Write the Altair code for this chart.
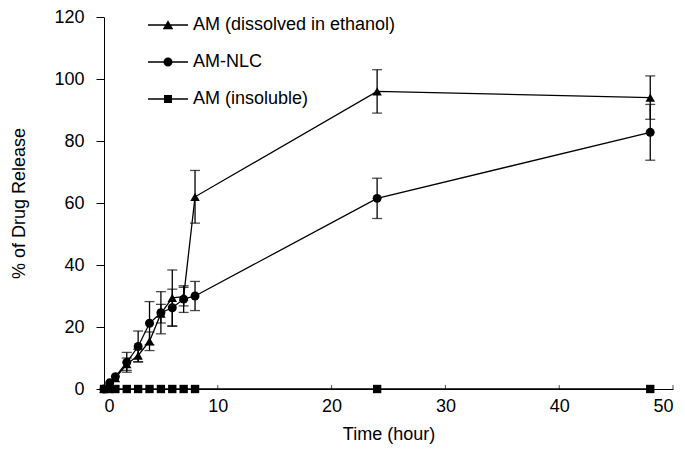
import altair as alt
import pandas as pd

FONT = "Liberation Sans"

# ---- data ----
series_names = ["AM (dissolved in ethanol)", "AM-NLC", "AM (insoluble)"]

time_am = [0, 0.5, 1, 2, 3, 4, 5, 6, 7, 8, 24, 48]
val_am = [0, 1.5, 3.5, 8, 10.8, 15.4, 24.3, 29.4, 29.8, 62, 96, 94]
err_am = [0, 0, 0, 2, 2, 3, 3, 9, 3, 8.5, 7, 7]

time_nlc = [0, 0.5, 1, 2, 3, 4, 5, 6, 7, 8, 24, 48]
val_nlc = [0, 2, 4, 8.6, 13.7, 21.2, 24.6, 26.2, 29, 30, 61.5, 82.8]
err_nlc = [0, 0, 0, 3.2, 5, 7, 6.8, 6, 4.3, 4.7, 6.5, 9]

time_ins = [0, 0.5, 1, 2, 3, 4, 5, 6, 7, 8, 24, 48]
val_ins = [0, 0, 0, 0, 0, 0, 0, 0, 0, 0, 0, 0]
err_ins = [0, 0, 0, 0, 0, 0, 0, 0, 0, 0, 0, 0]

x_ticks = [0, 10, 20, 30, 40, 50]
y_ticks = [0, 20, 40, 60, 80, 100, 120]

# ---- tables ----
rows = []
for name, ts, vs, es in [
    (series_names[0], time_am, val_am, err_am),
    (series_names[1], time_nlc, val_nlc, err_nlc),
    (series_names[2], time_ins, val_ins, err_ins),
]:
    for t, v, e in zip(ts, vs, es):
        rows.append({"series": name, "time": t, "value": v,
                     "lo": v - e, "hi": v + e, "err": e})
df = pd.DataFrame(rows)
df_err = df[df["err"] > 0]
df_ticks = pd.DataFrame({"t": x_ticks[1:]})

x_scale = alt.Scale(domain=[0, 50], nice=False, zero=False)
y_scale = alt.Scale(domain=[0, 120], nice=False)

# Legend symbols: a line segment with the series marker on it
seg = "M-4,-0.13H4V0.13H-4Z"
leg_tri = seg + "M0,-0.95L1.05,0.85L-1.05,0.85Z"
leg_cir = seg + "M0.9,0A0.9,0.9 0 1,1 -0.9,0A0.9,0.9 0 1,1 0.9,0Z"
leg_sq = seg + "M-0.8,-0.8H0.8V0.8H-0.8Z"

x_axis = alt.Axis(title="Time (hour)", values=x_ticks, ticks=False,
                  labelPadding=8, titlePadding=10, grid=False)
y_axis = alt.Axis(title="% of Drug Release", values=y_ticks, tickSize=8,
                  labelPadding=12, titlePadding=25, grid=False)

base = alt.Chart(df)

lines = base.mark_line(color="black", strokeWidth=1.3).encode(
    x=alt.X("time:Q", scale=x_scale, axis=x_axis),
    y=alt.Y("value:Q", scale=y_scale, axis=y_axis),
    detail="series:N",
)

err_rule = alt.Chart(df_err).mark_rule(color="black", strokeWidth=1.3).encode(
    x="time:Q", y="lo:Q", y2="hi:Q"
)
cap_lo = alt.Chart(df_err).mark_tick(color="black", thickness=1.3, size=10,
                                     orient="horizontal").encode(
    x="time:Q", y="lo:Q"
)
cap_hi = alt.Chart(df_err).mark_tick(color="black", thickness=1.3, size=10,
                                     orient="horizontal").encode(
    x="time:Q", y="hi:Q"
)

points = base.mark_point(filled=True, color="black", opacity=1).encode(
    x="time:Q",
    y="value:Q",
    shape=alt.Shape(
        "series:N",
        scale=alt.Scale(domain=series_names,
                        range=["triangle-up", "circle", "square"]),
        legend=None,
    ),
    size=alt.Size(
        "series:N",
        scale=alt.Scale(domain=series_names, range=[90, 70, 64]),
        legend=None,
    ),
)

# legend-only layer (no marks drawn; the legend comes from its shape scale)
legend_layer = base.transform_filter("false").mark_point(
    filled=True, color="black", opacity=1
).encode(
    x="time:Q",
    y="value:Q",
    shape=alt.Shape(
        "series:N",
        scale=alt.Scale(domain=series_names, range=[leg_tri, leg_cir, leg_sq]),
        legend=alt.Legend(
            title=None, orient="none", legendX=55, legendY=-1,
            labelFont=FONT, labelFontSize=18, labelColor="black",
            labelLimit=400, symbolSize=100, symbolFillColor="black",
            symbolOpacity=1, labelOffset=16, rowPadding=19,
        ),
    ),
)

inward_ticks = alt.Chart(df_ticks).mark_tick(
    color="black", thickness=1, size=4, yOffset=-2, orient="vertical"
).encode(x="t:Q", y=alt.datum(0))

chart = alt.layer(
    lines, err_rule, cap_lo, cap_hi, points, legend_layer, inward_ticks
).resolve_scale(shape="independent").properties(
    width=569, height=372,
    background="white",
    autosize=alt.AutoSizeParams(type="none"),
    padding={"left": 96, "top": 9, "right": 4, "bottom": 69},
).configure_view(stroke=None).configure_axis(
    domainColor="black", domainWidth=1, tickColor="black", tickWidth=1,
    labelFont=FONT, labelFontSize=18, labelColor="black",
    titleFont=FONT, titleFontSize=18, titleColor="black", titleFontWeight="normal",
)

chart.save("out.html", embed_options={"renderer": "svg", "actions": False})
